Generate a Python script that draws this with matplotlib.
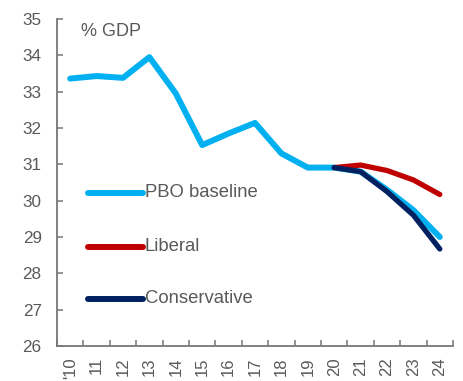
import matplotlib
matplotlib.use("Agg")
import matplotlib.pyplot as plt
import numpy as np

plt.rcParams['font.family'] = ['Liberation Sans', 'DejaVu Sans']

years = ["'10", "11", "12", "13", "14", "15", "16", "17", "18", "19",
         "20", "21", "22", "23", "24"]
pbo_baseline = [33.36, 33.43, 33.38, 33.95, 32.95, 31.53, 31.85, 32.14,
                31.30, 30.91, 30.91, 30.80, 30.30, 29.74, 29.00]
liberal = [30.91, 30.98, 30.83, 30.57, 30.17]
conservative = [30.91, 30.80, 30.25, 29.60, 28.67]
plan_start = 10

c_blue = '#00B0F0'
c_red = '#C00000'
c_navy = '#002060'
c_text = '#595959'
c_axis = '#767676'

fig = plt.figure(figsize=(4.63, 3.81), dpi=100)
ax = fig.add_axes([57/463, 1-346/381, 396/463, 327/381])

x = np.arange(len(years))
xp = x[plan_start:]
ax.plot(x, pbo_baseline, color=c_blue, lw=4.3, solid_capstyle='round',
        solid_joinstyle='round', zorder=3)
ax.plot(xp, liberal, color=c_red, lw=3.8, solid_capstyle='round',
        solid_joinstyle='round', zorder=4)
ax.plot(xp, conservative, color=c_navy, lw=3.8, solid_capstyle='round',
        solid_joinstyle='round', zorder=5)

ax.set_xlim(-0.5, len(years) - 0.5)
ax.set_ylim(26, 35)
ax.set_yticks(np.arange(26, 36, 1))

# category axis: tick marks between categories, labels at centres
ax.set_xticks(np.arange(-0.5, len(years), 1.0))
ax.set_xticklabels([])
ax.set_xticks(x, minor=True)
ax.set_xticklabels(years, minor=True, rotation=90, fontsize=12, color=c_text)
ax.tick_params(axis='x', which='minor', length=0, pad=8)
ax.tick_params(axis='x', which='major', direction='in', length=4,
               width=1.1, color=c_axis)
ax.tick_params(axis='y', direction='in', length=4, width=1.1, color=c_axis,
               labelsize=12.3, labelcolor=c_text, pad=11)

for s in ['top', 'right']:
    ax.spines[s].set_visible(False)
for s in ['left', 'bottom']:
    ax.spines[s].set_color(c_axis)
    ax.spines[s].set_linewidth(1.3)

ax.text(0.06, 0.963, '% GDP', transform=ax.transAxes, fontsize=13,
        color=c_text, ha='left', va='center')

# legend drawn inside the plot area
entries = [('PBO baseline', c_blue, 0.468),
           ('Liberal', c_red, 0.303),
           ('Conservative', c_navy, 0.144)]
for label, col, yy in entries:
    ax.plot([0.078, 0.217], [yy, yy], transform=ax.transAxes, color=col,
            lw=4.3, solid_capstyle='round', clip_on=False)
    ax.text(0.222, yy, label, transform=ax.transAxes, fontsize=13.3,
            color=c_text, ha='left', va='center')

fig.savefig('out.png', dpi=100)
